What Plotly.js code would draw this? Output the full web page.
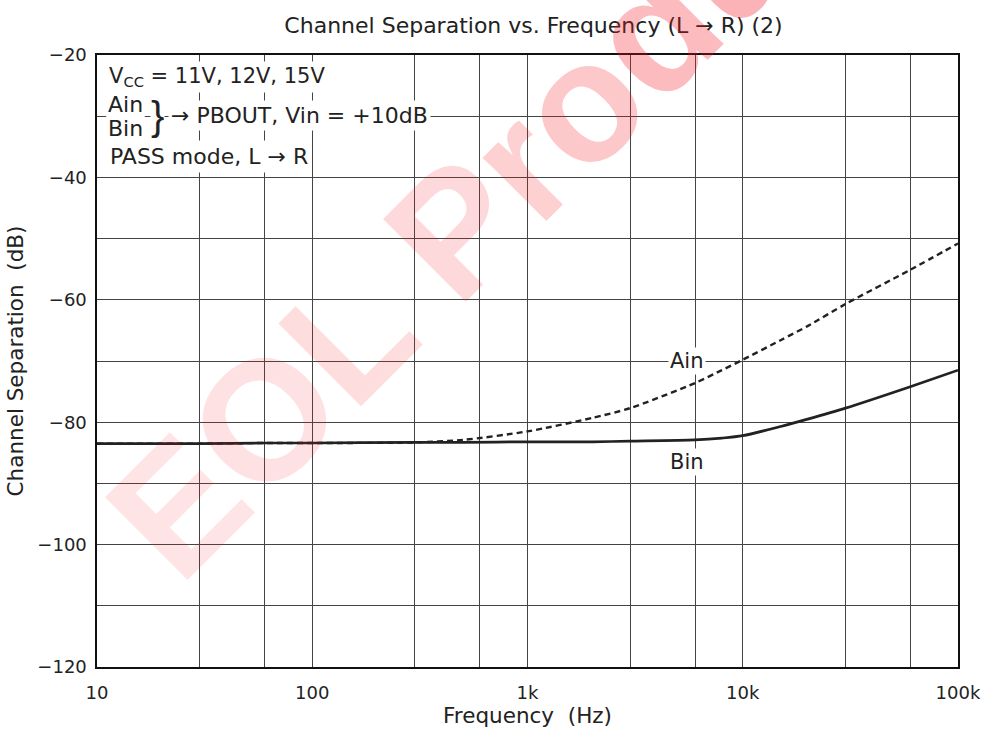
<!DOCTYPE html>
<html>
<head>
<meta charset="utf-8">
<script src="https://cdn.plot.ly/plotly-3.0.1.min.js"></script>
<style>
  html, body { margin: 0; padding: 0; background: #fff; }
  #chart { width: 990px; height: 742px; }
</style>
</head>
<body>
<div id="chart"></div>
<script>
// ---- data ----
const freqHz = [10, 20, 30, 60, 100, 300, 500, 1000, 2000, 3000, 6000, 8000, 10000, 15000, 20000, 30000, 60000, 100000];
const ainDb  = [-83.5, -83.5, -83.5, -83.4, -83.4, -83.3, -82.9, -81.5, -79.3, -77.7, -73.6, -71.5, -69.8, -66.6, -64.3, -60.7, -55.1, -50.8];
const binDb  = [-83.5, -83.5, -83.5, -83.4, -83.4, -83.3, -83.3, -83.2, -83.2, -83.1, -82.9, -82.6, -82.2, -80.7, -79.5, -77.7, -74.2, -71.5];

const xTickVals  = [10, 100, 1000, 10000, 100000];
const xTickText  = ["10", "100", "1k", "10k", "100k"];
const xMinorVals = [30, 60, 300, 600, 3000, 6000, 30000, 60000];
const yTickVals  = [-120, -100, -80, -60, -40, -20];
const yTickText  = ["\u2212120", "\u2212100", "\u221280", "\u221260", "\u221240", "\u221220"];
const yMinorVals = [-110, -90, -70, -50, -30];

// ---- layout helpers (plot area in pixels) ----
const PL = 97, PR = 958, PT = 55, PB = 667;
const px = x => (x - PL) / (PR - PL);
const py = y => (PB - y) / (PB - PT);

const FONT = "DejaVu Sans";
const INK = "#222";
const GRID = "#444";

const traces = [
  { x: freqHz, y: ainDb, mode: "lines", name: "Ain",
    line: { color: INK, width: 2.4, dash: "6px,4px", shape: "spline", smoothing: 0.7 } },
  { x: freqHz, y: binDb, mode: "lines", name: "Bin",
    line: { color: INK, width: 2.7, shape: "spline", smoothing: 0.8 } }
];

const wm = [
  ["E", 0.30], ["O", 0.34], ["L ", 0.38], ["P", 0.42], ["r", 0.52],
  ["o", 0.62], ["d", 0.76], ["u", 0.85], ["c", 0.88], ["t", 0.9]
].map(([ch, a]) => `<span style="color:rgba(245,20,30,${a})">${ch}</span>`).join("");

const boxFont = { family: FONT, size: 22, color: INK };

const annotations = [
  { xref: "paper", yref: "paper", x: px(504), y: py(180), text: wm, showarrow: false,
    textangle: -45, xanchor: "center", yanchor: "middle",
    font: { family: "Liberation Sans", size: 170, weight: 700, color: "rgba(245,20,30,0.38)" } },
  { xref: "paper", yref: "paper", x: px(106), y: py(77), xanchor: "left", yanchor: "middle",
    text: "V<sub>CC</sub> = 11V, 12V, 15V", showarrow: false, font: { family: FONT, size: 21, color: INK }, bgcolor: "#fff", borderpad: 2 },
  { xref: "paper", yref: "paper", x: px(106), y: py(104), xanchor: "left", yanchor: "middle",
    text: "Ain", showarrow: false, font: boxFont, bgcolor: "#fff", borderpad: 1 },
  { xref: "paper", yref: "paper", x: px(106), y: py(128), xanchor: "left", yanchor: "middle",
    text: "Bin", showarrow: false, font: boxFont, bgcolor: "#fff", borderpad: 1 },
  { xref: "paper", yref: "paper", x: px(150), y: py(116), xanchor: "left", yanchor: "middle",
    text: "}", showarrow: false, font: { family: "Liberation Sans", size: 40, color: INK }, bgcolor: "#fff", borderpad: 0 },
  { xref: "paper", yref: "paper", x: px(168), y: py(116), xanchor: "left", yanchor: "middle",
    text: "\u2192 PBOUT, Vin = +10dB", showarrow: false, font: boxFont, bgcolor: "#fff", borderpad: 2 },
  { xref: "paper", yref: "paper", x: px(106), y: py(157), xanchor: "left", yanchor: "middle",
    text: "PASS mode, L \u2192 R", showarrow: false, font: boxFont, bgcolor: "#fff", borderpad: 3 },
  { xref: "x", yref: "y", x: Math.log10(5500), y: -70, xanchor: "center", yanchor: "middle",
    text: "Ain", showarrow: false, font: { family: FONT, size: 21, color: INK }, bgcolor: "#fff", borderpad: 1 },
  { xref: "x", yref: "y", x: Math.log10(5500), y: -86.5, xanchor: "center", yanchor: "middle",
    text: "Bin", showarrow: false, font: { family: FONT, size: 21, color: INK }, bgcolor: "#fff", borderpad: 1 }
];

const layout = {
  width: 990, height: 742,
  margin: { l: PL, r: 990 - PR, t: PT, b: 742 - PB, pad: 0 },
  paper_bgcolor: "#fff", plot_bgcolor: "#fff",
  showlegend: false,
  font: { family: FONT, color: INK },
  title: { text: "Channel Separation vs. Frequency (L \u2192 R) (2)",
           font: { family: FONT, size: 22, color: INK },
           xref: "paper", x: 0.507, xanchor: "center",
           yref: "container", y: 1 - 25 / 742, yanchor: "middle" },
  xaxis: {
    type: "log", range: [1, 5], fixedrange: true,
    tickvals: xTickVals, ticktext: xTickText, ticks: "", ticklabelstandoff: 9,
    tickfont: { family: FONT, size: 18, color: INK },
    showgrid: true, gridcolor: GRID, gridwidth: 1,
    minor: { tickvals: xMinorVals, showgrid: true, gridcolor: GRID, gridwidth: 1, ticks: "" },
    showline: true, mirror: true, linecolor: "#111", linewidth: 1.6,
    zeroline: false,
    title: { text: "Frequency  (Hz)", font: { family: FONT, size: 21.5, color: INK }, standoff: 6 }
  },
  yaxis: {
    range: [-120, -20], fixedrange: true,
    tickvals: yTickVals, ticktext: yTickText, ticks: "", ticklabelstandoff: 5,
    tickfont: { family: FONT, size: 18, color: INK },
    showgrid: true, gridcolor: GRID, gridwidth: 1,
    minor: { tickvals: yMinorVals, showgrid: true, gridcolor: GRID, gridwidth: 1, ticks: "" },
    showline: true, mirror: true, linecolor: "#111", linewidth: 1.6,
    zeroline: false,
    title: { text: "Channel Separation  (dB)", font: { family: FONT, size: 21.5, color: INK }, standoff: 8 }
  },
  annotations: annotations
};

Plotly.newPlot("chart", traces, layout, { displayModeBar: false, staticPlot: true });
</script>
</body>
</html>
